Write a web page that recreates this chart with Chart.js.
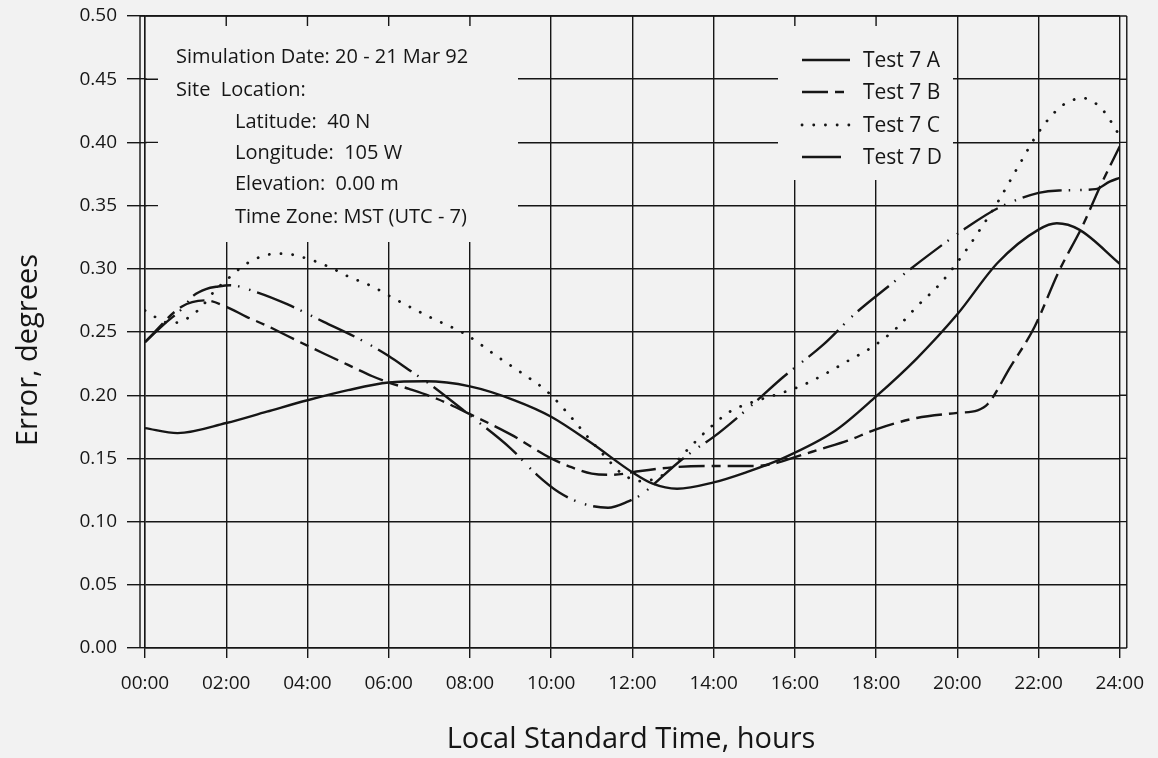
<!DOCTYPE html>
<html>
<head>
<meta charset="utf-8">
<title>Error, degrees vs Local Standard Time</title>
<script src="https://cdn.jsdelivr.net/npm/chart.js@4.4.1/dist/chart.umd.min.js"></script>
<style>
  html, body { margin: 0; padding: 0; background: #f2f2f2; }
  canvas { display: block; }
</style>
</head>
<body>
<canvas id="myChart" width="1158" height="758"></canvas>
<script>
// tick labels
const xTickLabels = ['00:00', '02:00', '04:00', '06:00', '08:00', '10:00', '12:00',
                     '14:00', '16:00', '18:00', '20:00', '22:00', '24:00'];
const yTickLabels = ['0.00', '0.05', '0.10', '0.15', '0.20', '0.25',
                     '0.30', '0.35', '0.40', '0.45', '0.50'];

// series (hours, error in degrees)
const testAHours = [0, 0.8, 2, 3, 4, 5, 6, 6.9, 8, 9.1, 10, 11, 12, 12.5, 13.1, 14, 14.8, 15.7,
                    17, 18, 19, 20, 21, 22, 22.45, 23, 24];
const testAError = [0.174, 0.170, 0.178, 0.187, 0.196, 0.204, 0.210, 0.211, 0.207, 0.196, 0.183,
                    0.162, 0.139, 0.130, 0.126, 0.131, 0.139, 0.150,
                    0.172, 0.199, 0.229, 0.264, 0.305, 0.331, 0.336, 0.331, 0.304];

const testBHours = [0, 0.9, 1.5, 2, 2.5, 3, 3.5, 4.4, 5, 5.6, 6, 6.5, 7.2, 8, 9, 10, 10.5, 11,
                    11.5, 12.2, 13, 14, 15, 15.5, 16, 16.6, 17.3, 18, 19, 20, 20.5, 20.75,
                    21.3, 21.9, 22.5, 23.1, 23.5, 24];
const testBError = [0.242, 0.270, 0.275, 0.270, 0.262, 0.255, 0.247, 0.233, 0.224, 0.215, 0.210,
                    0.205, 0.197, 0.185, 0.169, 0.150, 0.143, 0.138,
                    0.137, 0.140, 0.143, 0.144, 0.144, 0.146, 0.151, 0.157, 0.164, 0.173, 0.182,
                    0.186, 0.188, 0.193, 0.222, 0.254, 0.298, 0.335, 0.364, 0.397];

const testCHours = [0, 0.3, 0.6, 0.85, 1.15, 1.42, 1.7, 2, 2.5, 3, 3.4, 3.9, 4.5, 5, 5.6, 6.1,
                    7, 7.9, 8.7, 9.3, 9.9, 10.4, 10.9, 11.4, 11.7, 12.2, 12.8, 13.3, 13.9,
                    14.4, 15, 15.6, 16.2, 16.7, 17.3, 17.9, 18.5, 19, 19.6, 20.2, 20.6, 21,
                    21.5, 22, 22.5, 22.8, 23.1, 23.4, 23.65, 23.85, 24];
const testCError = [0.267, 0.261, 0.257, 0.258, 0.263, 0.271, 0.282, 0.291, 0.304, 0.311, 0.312,
                    0.309, 0.302, 0.294, 0.286, 0.277, 0.262, 0.248, 0.230, 0.217, 0.203,
                    0.186, 0.167, 0.149, 0.139, 0.132, 0.138, 0.155, 0.174, 0.187, 0.195,
                    0.201, 0.208, 0.216, 0.227, 0.238, 0.253, 0.270, 0.289, 0.314, 0.333,
                    0.353, 0.381, 0.408, 0.427, 0.433, 0.435, 0.431, 0.423, 0.413, 0.405];

const testDHours = [0, 0.5, 0.9, 1.2, 1.5, 1.8, 2.1, 2.7, 3.5, 4.4, 5.3, 6, 6.5, 7, 8, 9, 9.65,
                    10.2, 10.8, 11.4, 11.9, 12.2, 13.1, 13.5, 14, 14.9, 15.7, 16.7, 17.5,
                    18.3, 19.3, 20.2, 21, 22, 22.5, 23.4, 23.75, 24];
const testDError = [0.242, 0.257, 0.268, 0.279, 0.284, 0.286, 0.287, 0.282, 0.272, 0.258, 0.244,
                    0.231, 0.220, 0.209, 0.184, 0.158, 0.137, 0.123, 0.114, 0.111, 0.116,
                    0.121, 0.146, 0.156, 0.167, 0.191, 0.214, 0.240, 0.265, 0.286, 0.311,
                    0.332, 0.348, 0.360, 0.362, 0.363, 0.369, 0.372];

const seriesNames = ['Test 7 A', 'Test 7 B', 'Test 7 C', 'Test 7 D'];

const noteLines = [
    ['Simulation Date: 20 - 21 Mar 92', 0],
    ['Site  Location:', 0],
    ['Latitude:  40 N', 1],
    ['Longitude:  105 W', 1],
    ['Elevation:  0.00 m', 1],
    ['Time Zone: MST (UTC - 7)', 1]
];

const ink = '#161616';
const paper = '#f2f2f2';
const face = "'Open Sans', sans-serif";

function toPoints(xs, ys) {
    return xs.map((x, i) => ({ x: x, y: ys[i] }));
}

// blank areas of the plot that hold the notes and the key
const noteBox = { left: 146.5, top: 17, right: 518, bottom: 242 };
const keyBox = { left: 778, top: 17, right: 953, bottom: 180 };

const paperPlugin = {
    id: 'paper',
    beforeDraw(chart) {
        const c = chart.ctx;
        c.save();
        c.fillStyle = paper;
        c.fillRect(0, 0, chart.width, chart.height);
        c.restore();
    },
    beforeDatasetsDraw(chart) {
        const c = chart.ctx;
        const area = chart.chartArea;
        const sx = chart.scales.x;
        const sy = chart.scales.y;
        c.save();

        // blank out grid behind the text blocks
        c.fillStyle = paper;
        [noteBox, keyBox].forEach(b => c.fillRect(b.left, b.top, b.right - b.left, b.bottom - b.top));

        c.strokeStyle = ink;
        c.lineWidth = 1.4;
        c.beginPath();
        // short ticks left on the top edge
        sx.ticks.forEach(t => {
            const px = sx.getPixelForValue(t.value);
            [noteBox, keyBox].forEach(b => {
                if (px > b.left && px < b.right) {
                    c.moveTo(px, area.top);
                    c.lineTo(px, area.top + 10);
                }
            });
        });
        // ticks inside the left edge
        sy.ticks.forEach(t => {
            const py = sy.getPixelForValue(t.value);
            if (py > noteBox.top && py < noteBox.bottom) {
                c.moveTo(area.left, py);
                c.lineTo(area.left + 13, py);
            }
            c.moveTo(area.right, py);
            c.lineTo(area.right + 7, py);
        });
        // double frame lines
        c.moveTo(area.left - 5, area.top);
        c.lineTo(area.left - 5, area.bottom);
        c.moveTo(area.right + 7, area.top);
        c.lineTo(area.right + 7, area.bottom);
        c.moveTo(area.left - 5, area.top);
        c.lineTo(area.right + 7, area.top);
        c.stroke();

        // notes
        c.fillStyle = ink;
        c.font = '20px ' + face;
        c.textBaseline = 'middle';
        c.textAlign = 'left';
        const noteY = [57, 90, 122, 153, 184, 217];
        noteLines.forEach((ln, i) => {
            c.fillText(ln[0], ln[1] ? 235 : 176, noteY[i]);
        });

        // key
        const keyY = [60, 92, 125, 157];
        c.font = '21px ' + face;
        chart.data.datasets.forEach((ds, i) => {
            c.save();
            c.strokeStyle = ds.borderColor;
            c.lineWidth = ds.borderWidth;
            c.lineCap = ds.borderCapStyle || 'butt';
            c.setLineDash(ds.borderDash || []);
            c.beginPath();
            c.moveTo(802, keyY[i]);
            c.lineTo(i === 3 ? 841 : 850, keyY[i]);
            c.stroke();
            c.restore();
            c.fillText(seriesNames[i], 863, keyY[i] + 1);
        });
        c.restore();
    },
    afterDraw(chart) {
        const c = chart.ctx;
        c.save();
        c.fillStyle = ink;
        c.font = '29px ' + face;
        c.textAlign = 'center';
        c.textBaseline = 'alphabetic';
        c.fillText('Local Standard Time, hours', 631, 748);
        c.translate(37, 350);
        c.rotate(-Math.PI / 2);
        c.fillText('Error, degrees', 0, 0);
        c.restore();
    }
};

const line = (label, xs, ys, dash, cap) => ({
    label: label,
    data: toPoints(xs, ys),
    borderColor: ink,
    borderWidth: cap === 'round' ? 2.8 : 2.4,
    borderDash: dash,
    borderCapStyle: cap || 'butt',
    cubicInterpolationMode: 'monotone',
    pointRadius: 0,
    fill: false
});

const ctx = document.getElementById('myChart');

new Chart(ctx, {
    type: 'line',
    data: {
        datasets: [
            line(seriesNames[0], testAHours, testAError, []),
            line(seriesNames[1], testBHours, testBError, [26, 7, 9, 7]),
            line(seriesNames[2], testCHours, testCError, [0.1, 11.6], 'round'),
            line(seriesNames[3], testDHours, testDError, [40, 7, 1.5, 10, 1.5, 7])
        ]
    },
    options: {
        responsive: false,
        animation: false,
        layout: { padding: { top: 16, right: 38, left: 0, bottom: 0 } },
        plugins: {
            legend: { display: false },
            tooltip: { enabled: false }
        },
        scales: {
            x: {
                type: 'linear',
                min: 0,
                max: 24,
                afterFit: s => { s.height = 110; },
                ticks: {
                    stepSize: 2,
                    maxRotation: 0,
                    autoSkip: false,
                    padding: 14,
                    color: ink,
                    font: { family: face, size: 19 },
                    callback: (v, i) => xTickLabels[i]
                },
                grid: { color: ink, lineWidth: 1.4, tickLength: 10 },
                border: { display: true, color: ink, width: 1.4 }
            },
            y: {
                min: 0,
                max: 0.5,
                afterFit: s => {
                    s.width = 145;
                    s.paddingTop = 4;
                    s.paddingBottom = 4;
                },
                ticks: {
                    stepSize: 0.05,
                    padding: 10,
                    color: ink,
                    font: { family: face, size: 19 },
                    callback: (v, i) => yTickLabels[i]
                },
                grid: { color: ink, lineWidth: 1.4, tickLength: 18 },
                border: { display: true, color: ink, width: 1.4 }
            }
        }
    },
    plugins: [paperPlugin]
});
</script>
</body>
</html>
